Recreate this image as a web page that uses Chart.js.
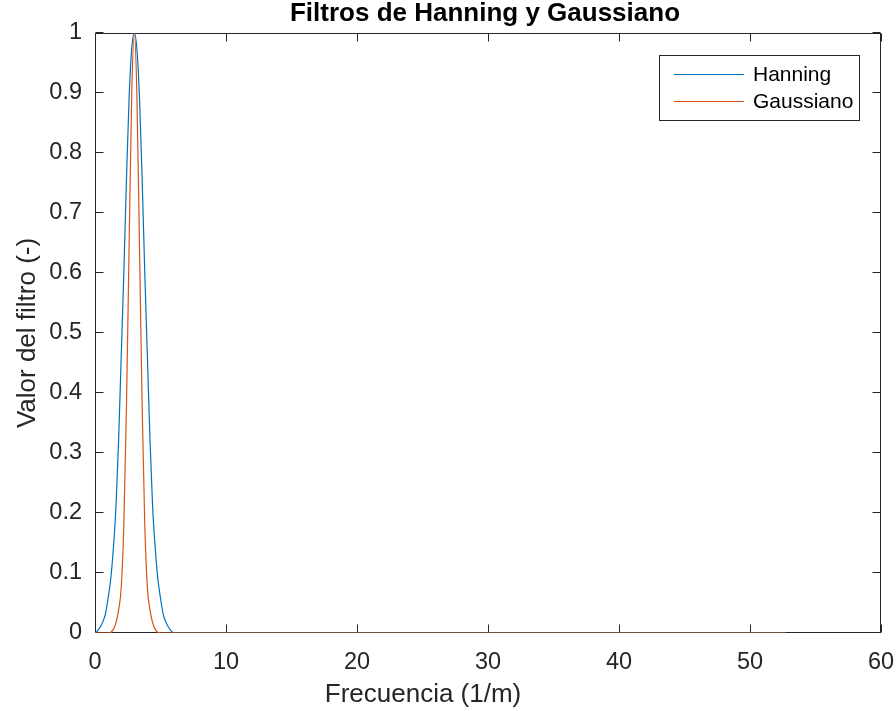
<!DOCTYPE html>
<html>
<head>
<meta charset="utf-8">
<script src="https://cdn.jsdelivr.net/npm/chart.js@4/dist/chart.umd.min.js"></script>
<style>
  html, body { margin: 0; padding: 0; background: #fff; }
  #wrap { width: 896px; height: 711px; }
</style>
</head>
<body>
<div id="wrap"><canvas id="c" width="896" height="711"></canvas></div>
<script>
// Frequency samples (1/m)
const freq = [0, 0.2, 0.4, 0.6, 0.8, 1.0, 1.2, 1.4, 1.6, 1.8, 2.0, 2.2, 2.4, 2.6, 2.8, 3.0,
              3.2, 3.4, 3.6, 3.8, 4.0, 4.2, 4.4, 4.6, 4.8, 5.0, 5.2, 5.4, 5.6, 5.8, 6.0, 52.7];

// Hanning filter response
const hanning = [0, 0.004, 0.010, 0.019, 0.032, 0.058, 0.09, 0.14, 0.21, 0.32, 0.46, 0.60, 0.755, 0.89, 0.973, 1.0,
                 0.973, 0.89, 0.755, 0.60, 0.46, 0.32, 0.21, 0.14, 0.09, 0.058, 0.032, 0.019, 0.010, 0.004, 0, 0];

// Gaussian filter response
const gaussiano = [0, 0, 0, 0, 0, 0, 0.001, 0.006, 0.017, 0.038, 0.075, 0.18, 0.375, 0.64, 0.895, 1.0,
                   0.895, 0.64, 0.375, 0.18, 0.075, 0.038, 0.017, 0.006, 0.001, 0, 0, 0, 0, 0, 0, 0];

const xTicks = [0, 10, 20, 30, 40, 50, 60];
const yTicks = [0, 0.1, 0.2, 0.3, 0.4, 0.5, 0.6, 0.7, 0.8, 0.9, 1];
const yTickLabels = ['0', '0.1', '0.2', '0.3', '0.4', '0.5', '0.6', '0.7', '0.8', '0.9', '1'];

const titleText = 'Filtros de Hanning y Gaussiano';
const xLabel = 'Frecuencia (1/m)';
const yLabel = 'Valor del filtro (-)';

const FONT = '"Liberation Sans", Arial, Helvetica, sans-serif';
const AXIS_COLOR = '#262626';

// Box around the axes with inward tick marks on all four sides
const axesFrame = {
  id: 'axesFrame',
  beforeDatasetsDraw(chart) {
    const { ctx, chartArea: a, scales } = chart;
    const L = Math.round(a.left) + 0.5, R = Math.round(a.right) - 0.5;
    const T = Math.round(a.top) + 0.5, B = Math.round(a.bottom) - 0.5;
    const tk = 8;
    ctx.save();
    ctx.strokeStyle = AXIS_COLOR;
    ctx.lineWidth = 1;
    ctx.strokeRect(L, T, R - L, B - T);
    ctx.beginPath();
    xTicks.forEach(v => {
      const x = Math.round(scales.x.getPixelForValue(v)) + 0.5;
      ctx.moveTo(x, B); ctx.lineTo(x, B - tk);
      ctx.moveTo(x, T); ctx.lineTo(x, T + tk);
    });
    yTicks.forEach(v => {
      const y = Math.round(scales.y.getPixelForValue(v)) - 0.5;
      ctx.moveTo(L, y); ctx.lineTo(L + tk, y);
      ctx.moveTo(R, y); ctx.lineTo(R - tk, y);
    });
    ctx.stroke();
    ctx.restore();
  },
  afterDraw(chart) {
    const { ctx, chartArea: a } = chart;
    ctx.save();
    // title
    ctx.fillStyle = '#000';
    ctx.font = 'bold 26px ' + FONT;
    ctx.textAlign = 'center';
    ctx.textBaseline = 'alphabetic';
    ctx.fillText(titleText, 485, 21);
    // axis labels
    ctx.fillStyle = AXIS_COLOR;
    ctx.font = '26px ' + FONT;
    ctx.fillText(xLabel, 423, 702);
    ctx.save();
    ctx.translate(35, (a.top + a.bottom) / 2);
    ctx.rotate(-Math.PI / 2);
    ctx.fillText(yLabel, 0, 0);
    ctx.restore();

    // legend
    const bx = 659.5, by = 55.5, bw = 200, bh = 65;
    ctx.fillStyle = '#fff';
    ctx.fillRect(bx, by, bw, bh);
    ctx.strokeStyle = AXIS_COLOR;
    ctx.lineWidth = 1;
    ctx.strokeRect(bx, by, bw, bh);
    const rows = [74.5, 101.5];
    chart.data.datasets.forEach((ds, i) => {
      const y = rows[i];
      ctx.strokeStyle = ds.borderColor;
      ctx.lineWidth = 1.2;
      ctx.beginPath();
      ctx.moveTo(674, y); ctx.lineTo(744, y);
      ctx.stroke();
      ctx.fillStyle = '#000';
      ctx.font = '21px ' + FONT;
      ctx.textAlign = 'left';
      ctx.textBaseline = 'middle';
      ctx.fillText(ds.label, 753, y + 1);
    });
    ctx.restore();
  }
};

const tickFont = { family: FONT, size: 23.5 };

new Chart(document.getElementById('c'), {
  type: 'line',
  data: {
    datasets: [
      {
        label: 'Hanning',
        data: freq.map((f, i) => ({ x: f, y: hanning[i] })),
        borderColor: '#0072BD',
        borderWidth: 1.2,
        pointRadius: 0,
        cubicInterpolationMode: 'monotone',
        fill: false,
        order: 1
      },
      {
        label: 'Gaussiano',
        data: freq.map((f, i) => ({ x: f, y: gaussiano[i] })),
        borderColor: '#D95319',
        borderWidth: 1.2,
        pointRadius: 0,
        cubicInterpolationMode: 'monotone',
        fill: false,
        order: 0
      }
    ]
  },
  options: {
    responsive: false,
    animation: false,
    devicePixelRatio: 1,
    layout: { padding: { top: 33, right: 15, bottom: 0, left: 0 } },
    plugins: {
      legend: { display: false },
      tooltip: { enabled: false },
      title: { display: false }
    },
    scales: {
      x: {
        type: 'linear',
        min: 0,
        max: 60,
        grid: { display: false, drawTicks: false },
        border: { display: false },
        afterBuildTicks: s => { s.ticks = xTicks.map(v => ({ value: v })); },
        afterFit: s => { s.height = 78; s.paddingLeft = 0; s.paddingRight = 0; },
        ticks: {
          font: tickFont,
          color: AXIS_COLOR,
          padding: 15,
          maxRotation: 0,
          autoSkip: false,
          callback: v => String(v)
        }
      },
      y: {
        type: 'linear',
        min: 0,
        max: 1,
        grid: { display: false, drawTicks: false },
        border: { display: false },
        afterBuildTicks: s => { s.ticks = yTicks.map(v => ({ value: v })); },
        afterFit: s => { s.width = 95; s.paddingTop = 0; s.paddingBottom = 0; },
        ticks: {
          font: tickFont,
          color: AXIS_COLOR,
          padding: 13,
          autoSkip: false,
          callback: (v, i) => yTickLabels[i]
        }
      }
    }
  },
  plugins: [axesFrame]
});
</script>
</body>
</html>
